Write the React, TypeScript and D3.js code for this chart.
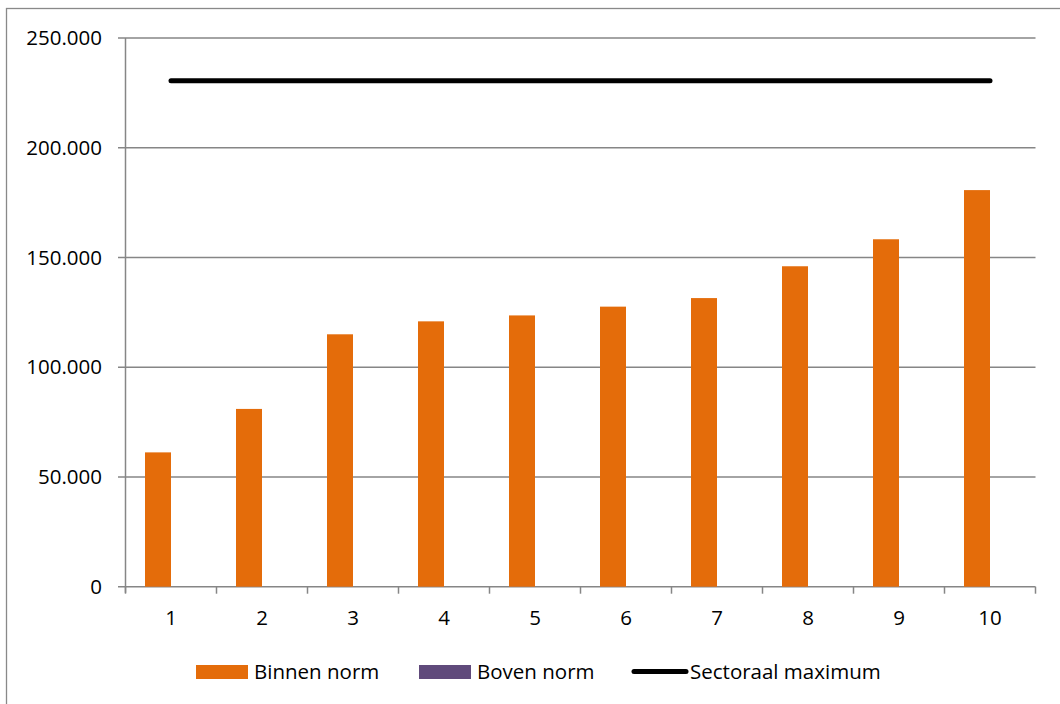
import React from "react";
import * as d3 from "d3";

const categories = ["1", "2", "3", "4", "5", "6", "7", "8", "9", "10"];
const binnenNorm = [61200, 81000, 115000, 120900, 123600, 127600, 131500, 146000, 158300, 180700];
const bovenNorm = [0, 0, 0, 0, 0, 0, 0, 0, 0, 0];
const sectoraalMaximum = [230500, 230500, 230500, 230500, 230500, 230500, 230500, 230500, 230500, 230500];
const yTicks = [0, 50000, 100000, 150000, 200000, 250000];
const seriesNames = ["Binnen norm", "Boven norm", "Sectoraal maximum"];

const W = 1060;
const H = 704;
const FONT = "'Open Sans', sans-serif";
const FS = 20.5;
const ORANGE = "#E46C0A";
const PURPLE = "#604A7B";
const GRID = "#868686";

export default function App() {
  const left = 125.5;
  const right = 1035.5;
  const top = 38;
  const bottom = 586.7;

  const x = d3.scaleBand<string>().domain(categories).range([left, right]).paddingInner(0).paddingOuter(0);
  const inner = d3
    .scaleBand<string>()
    .domain(["b", "o"])
    .range([0, x.bandwidth()])
    .paddingOuter(0.75)
    .paddingInner(0);
  const y = d3.scaleLinear().domain([0, 250000]).range([bottom, top]);
  const fmt = (v: number) => (v === 0 ? "0" : d3.format(",")(v).replace(/,/g, "."));

  const line = d3
    .line<number>()
    .x((_, i) => (x(categories[i]) as number) + x.bandwidth() / 2)
    .y((d) => y(d));

  return (
    <svg
      width={W}
      height={H}
      style={{ position: "absolute", left: 0, top: 0, background: "#fff" }}
      fontFamily={FONT}
    >
      <rect x={6.5} y={8.5} width={1100} height={800} fill="#fff" stroke="#898989" strokeWidth={1.3} />
      {yTicks.map((t) => (
        <g key={t}>
          <line x1={118} x2={right} y1={y(t)} y2={y(t)} stroke={GRID} strokeWidth={1.5} />
          <text x={102} y={y(t)} dy="0.35em" textAnchor="end" fontSize={FS} fill="#000">
            {fmt(t)}
          </text>
        </g>
      ))}
      <line x1={left} x2={left} y1={top} y2={bottom + 6} stroke={GRID} strokeWidth={1.5} />
      {categories.map((c) => (
        <line
          key={"tk" + c}
          x1={x(c) as number}
          x2={x(c) as number}
          y1={bottom}
          y2={bottom + 7}
          stroke={GRID}
          strokeWidth={1.5}
        />
      ))}
      <line x1={right} x2={right} y1={bottom} y2={bottom + 7} stroke={GRID} strokeWidth={1.5} />
      {categories.map((c, i) => (
        <g key={"b" + c}>
          <rect
            x={(x(c) as number) + (inner("b") as number)}
            y={y(binnenNorm[i])}
            width={inner.bandwidth()}
            height={bottom - y(binnenNorm[i])}
            fill={ORANGE}
          />
          <rect
            x={(x(c) as number) + (inner("o") as number)}
            y={y(bovenNorm[i])}
            width={inner.bandwidth()}
            height={bottom - y(bovenNorm[i])}
            fill={PURPLE}
          />
          <text
            x={(x(c) as number) + x.bandwidth() / 2}
            y={618}
            dy="0.35em"
            textAnchor="middle"
            fontSize={FS}
            fill="#000"
          >
            {c}
          </text>
        </g>
      ))}
      <path
        d={line(sectoraalMaximum) || ""}
        fill="none"
        stroke="#000"
        strokeWidth={5}
        strokeLinecap="round"
      />
      <g fontSize={FS}>
        <rect x={196} y={665} width={52} height={14} fill={ORANGE} />
        <text x={254} y={672} dy="0.35em" fill="#000">
          {seriesNames[0]}
        </text>
        <rect x={419} y={665} width={52} height={14} fill={PURPLE} />
        <text x={477} y={672} dy="0.35em" fill="#000">
          {seriesNames[1]}
        </text>
        <line x1={634} x2={686} y1={671.5} y2={671.5} stroke="#000" strokeWidth={5} strokeLinecap="round" />
        <text x={690} y={672} dy="0.35em" fill="#000">
          {seriesNames[2]}
        </text>
      </g>
    </svg>
  );
}
